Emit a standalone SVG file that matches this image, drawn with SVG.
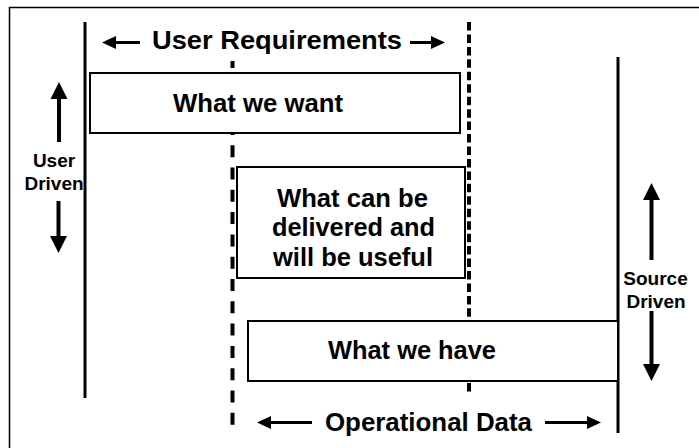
<svg xmlns="http://www.w3.org/2000/svg" width="699" height="448" viewBox="0 0 699 448">
<style>
.frame{fill:none;stroke:#000;stroke-width:1.5}
.solid{stroke:#000;stroke-width:3}
.dash{stroke:#000;stroke-width:4}
.box{fill:#fff;stroke:#000;stroke-width:2}
.big{font-family:"Liberation Sans",Arial,sans-serif;font-weight:bold;font-size:25px;fill:#000}
.small{font-family:"Liberation Sans",Arial,sans-serif;font-weight:bold;font-size:19px;fill:#000;text-anchor:middle}
.harr{stroke:#000;stroke-width:3;fill:none;marker-end:url(#hh)}
.varr{stroke:#000;stroke-width:4;fill:none;marker-end:url(#vh)}
</style>
<defs>
<marker id="hh" markerUnits="userSpaceOnUse" markerWidth="14" markerHeight="13" refX="0" refY="6.5" orient="auto" overflow="visible">
<path d="M0,0 L14,6.5 L0,13 Z" fill="#000"/>
</marker>
<marker id="vh" markerUnits="userSpaceOnUse" markerWidth="17" markerHeight="17" refX="0" refY="8.5" orient="auto" overflow="visible">
<path d="M0,0 L17,8.5 L0,17 Z" fill="#000"/>
</marker>
</defs>
<rect width="699" height="448" fill="#fff"/>
<rect class="frame" x="9.5" y="7.5" width="700" height="450"/>
<g id="guides">
<line class="solid" x1="85" y1="22" x2="85" y2="398"/>
<line class="solid" x1="618" y1="57" x2="618" y2="433"/>
<line class="dash" x1="232.5" y1="61" x2="232.5" y2="425" stroke-dasharray="12 10.3" stroke-dashoffset="5"/>
<line class="dash" x1="469" y1="22" x2="469" y2="393" stroke-dasharray="8.5 3.95"/>
</g>
<g id="box-want">
<rect class="box" x="90" y="73" width="370" height="60"/>
<text class="big" x="173" y="112" textLength="170" lengthAdjust="spacingAndGlyphs">What we want</text>
</g>
<g id="box-deliver">
<rect class="box" x="237" y="167" width="228" height="111"/>
<text class="big" x="277" y="206.5" textLength="151" lengthAdjust="spacingAndGlyphs">What can be</text>
<text class="big" x="272" y="235.5" textLength="163" lengthAdjust="spacingAndGlyphs">delivered and</text>
<text class="big" x="273" y="266" textLength="160" lengthAdjust="spacingAndGlyphs">will be useful</text>
</g>
<g id="box-have">
<rect class="box" x="248" y="321" width="370" height="60"/>
<text class="big" x="328" y="359" textLength="168" lengthAdjust="spacingAndGlyphs">What we have</text>
</g>
<g id="label-user-requirements">
<text class="big" x="152" y="49" textLength="250" lengthAdjust="spacingAndGlyphs">User Requirements</text>
</g>
<g id="label-operational-data">
<text class="big" x="325" y="431" textLength="207" lengthAdjust="spacingAndGlyphs">Operational Data</text>
</g>
<g id="label-user-driven">
<text class="small" x="54" y="167">User</text>
<text class="small" x="54" y="190">Driven</text>
</g>
<g id="label-source-driven">
<text class="small" x="655.5" y="285">Source</text>
<text class="small" x="656" y="308">Driven</text>
</g>
<g id="connectors">
<line class="harr" x1="140" y1="42.5" x2="116" y2="42.5"/>
<line class="harr" x1="410" y1="42.5" x2="431" y2="42.5"/>
<line class="harr" x1="312" y1="422.5" x2="271" y2="422.5"/>
<line class="harr" x1="545" y1="422.5" x2="587" y2="422.5"/>
<line class="varr" x1="59" y1="142" x2="59" y2="99"/>
<line class="varr" x1="58.5" y1="201" x2="58.5" y2="236"/>
<line class="varr" x1="651.5" y1="260" x2="651.5" y2="200"/>
<line class="varr" x1="651.5" y1="311" x2="651.5" y2="364"/>
</g>
</svg>
